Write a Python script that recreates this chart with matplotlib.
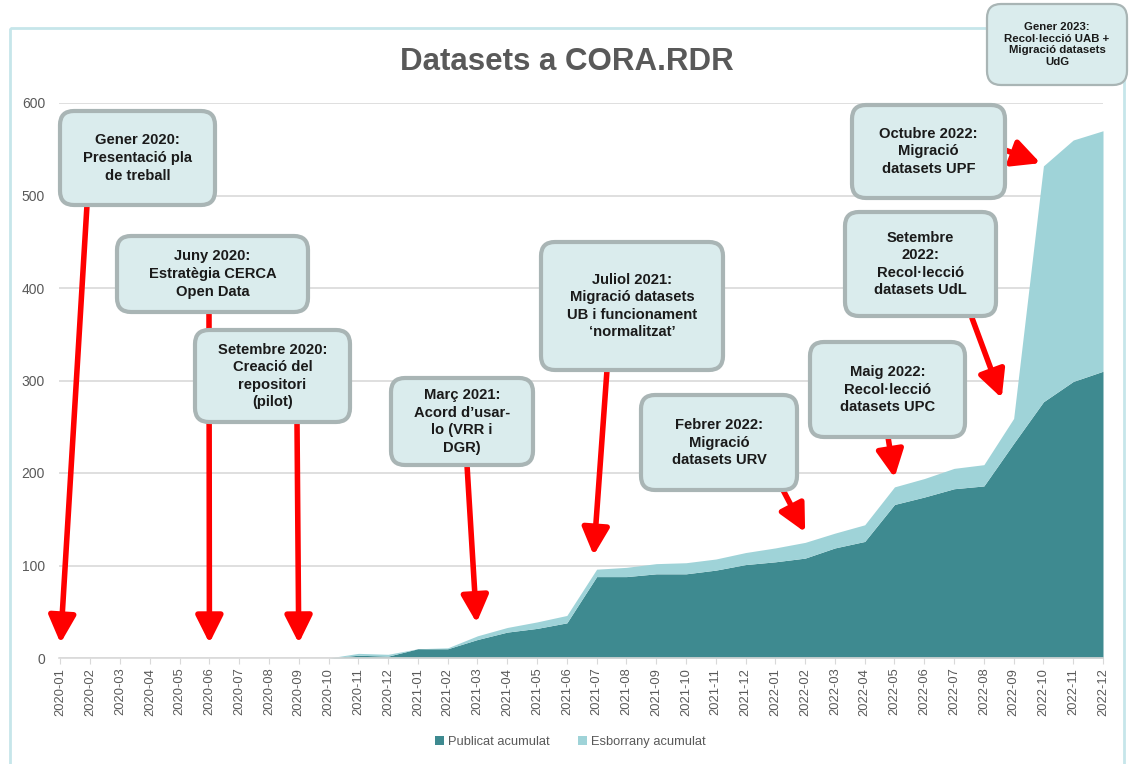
import matplotlib.pyplot as plt
import pandas as pd
from matplotlib.patches import FancyBboxPatch, Rectangle

plt.rcParams['font.family'] = ['Liberation Sans', 'DejaVu Sans']

# Data
mesos = [p.strftime('%Y-%m') for p in pd.period_range('2020-01', '2022-12', freq='M')]
publicat = [0, 0, 0, 0, 0, 0, 0, 0, 0, 0,
            3, 2, 10, 10, 20, 28, 32, 38, 88, 88, 91, 91, 95, 101, 104, 108,
            119, 126, 166, 174, 183, 186, 232, 277, 299, 310]
esborrany = [0, 0, 0, 0, 0, 0, 0, 0, 0, 0,
             2, 2, 0, 1, 4, 5, 7, 8, 8, 10, 11, 12, 12, 13, 15, 17,
             16, 18, 19, 20, 22, 23, 27, 255, 261, 260]
total = [p + e for p, e in zip(publicat, esborrany)]

# Milestone boxes: text, box (x0, y0, x1, y1) in pixels, arrow start in pixels,
# arrow target (month idx, value), font size, line spacing, edge width
fites = [
    ('Gener 2020:\nPresentació pla\nde treball', (60, 111, 215, 205), (87, 205), (0, 16), 10.6, 1.32, 3),
    ('Juny 2020:\nEstratègia CERCA\nOpen Data', (117, 236, 308, 312), (209, 312), (5, 16), 10.6, 1.32, 3),
    ('Setembre 2020:\nCreació del\nrepositori\n(pilot)', (195, 330, 350, 422), (297, 422), (8, 16), 10.6, 1.32, 3),
    ('Març 2021:\nAcord d\u2019usar-\nlo (VRR i\nDGR)', (391, 378, 533, 465), (467, 465), (13.97, 38), 10.6, 1.32, 3),
    ('Juliol 2021:\nMigració datasets\nUB i funcionament\n\u2018normalitzat\u2019', (541, 242, 723, 370), (607, 370), (17.9, 111), 10.6, 1.32, 3),
    ('Febrer 2022:\nMigració\ndatasets URV', (641, 395, 797, 490), (783, 490), (25.0, 136), 10.6, 1.32, 3),
    ('Maig 2022:\nRecol·lecció\ndatasets UPC', (810, 342, 965, 437), (888, 437), (28.0, 195), 10.6, 1.32, 3),
    ('Setembre\n2022:\nRecol·lecció\ndatasets UdL', (845, 212, 996, 316), (972, 318), (31.6, 281), 10.6, 1.32, 3),
    ('Octubre 2022:\nMigració\ndatasets UPF', (852, 105, 1005, 198), (1005, 150), (32.9, 535), 10.6, 1.32, 3),
    ('Gener 2023:\nRecol·lecció UAB +\nMigració datasets\nUdG', (987, 4, 1127, 85), None, None, 8.2, 1.18, 1.6),
]

W, H = 1129, 764
fig = plt.figure(figsize=(W / 100, H / 100), dpi=100)
fig.patch.set_facecolor('white')

ax = fig.add_axes([59 / W, 1 - 658 / H, (1103 - 59) / W, (658 - 103) / H])
x = list(range(len(mesos)))
ax.fill_between(x, 0, publicat, color='#3e8a90', lw=0, label='Publicat acumulat', zorder=2)
ax.fill_between(x, publicat, total, color='#9fd3d8', lw=0, label='Esborrany acumulat', zorder=2)
ax.set_xlim(-0.05, len(mesos) - 1)
ax.set_ylim(0, 600)
ax.set_yticks(range(0, 601, 100))
ax.yaxis.grid(True, color='#d9d9d9', lw=1.2, zorder=0)
ax.set_axisbelow(True)
ax.set_xticks(x)
ax.set_xticklabels(mesos, rotation=90, fontsize=9.3, color='#595959')
ax.tick_params(axis='y', length=0, labelsize=10, labelcolor='#595959', pad=10)
ax.tick_params(axis='x', length=4, color='#d9d9d9', pad=3)
for s in ['top', 'right', 'left']:
    ax.spines[s].set_visible(False)
ax.spines['bottom'].set_color('#d9d9d9')
ax.spines['bottom'].set_linewidth(1.2)

fig.text(567 / W, 1 - 62 / H, 'Datasets a CORA.RDR', ha='center', va='center',
         fontsize=22.5, fontweight='bold', color='#595959')

leg = fig.legend(loc='center', bbox_to_anchor=(570 / W, 1 - 742 / H), ncol=2, frameon=False,
                 fontsize=9.3, handlelength=0.7, handleheight=0.7, handletextpad=0.3, columnspacing=2.2)
for t in leg.get_texts():
    t.set_color('#595959')

# overlay in pixel coordinates for frame, boxes and arrows
ov = fig.add_axes([0, 0, 1, 1], zorder=5)
ov.set_xlim(0, W)
ov.set_ylim(H, 0)
ov.axis('off')
ov.patch.set_alpha(0)

ov.add_patch(Rectangle((10, 28), 1114, 760, fill=False, ec='#c6e6ea', lw=2))

for text, (x0, y0, x1, y1), start, target, fs, ls, ew in fites:
    if start is not None:
        ov.annotate('', xy=target, xycoords=ax.transData, xytext=start, textcoords='data',
                    arrowprops=dict(arrowstyle='-|>,head_length=1.1,head_width=0.55', color='#ff0000',
                                    lw=4, shrinkA=0, shrinkB=0, mutation_scale=15))
    ov.add_patch(FancyBboxPatch((x0 + 10, y0 + 10), (x1 - x0) - 20, (y1 - y0) - 20,
                                boxstyle='round,pad=10,rounding_size=14',
                                fc='#daeced', ec='#a9b5b5', lw=ew, zorder=3))
    ov.text((x0 + x1) / 2, (y0 + y1) / 2, text, ha='center', va='center', fontsize=fs,
            fontweight='bold', color='#1a1a1a', linespacing=ls, zorder=4)

fig.savefig('out.png', dpi=100)
